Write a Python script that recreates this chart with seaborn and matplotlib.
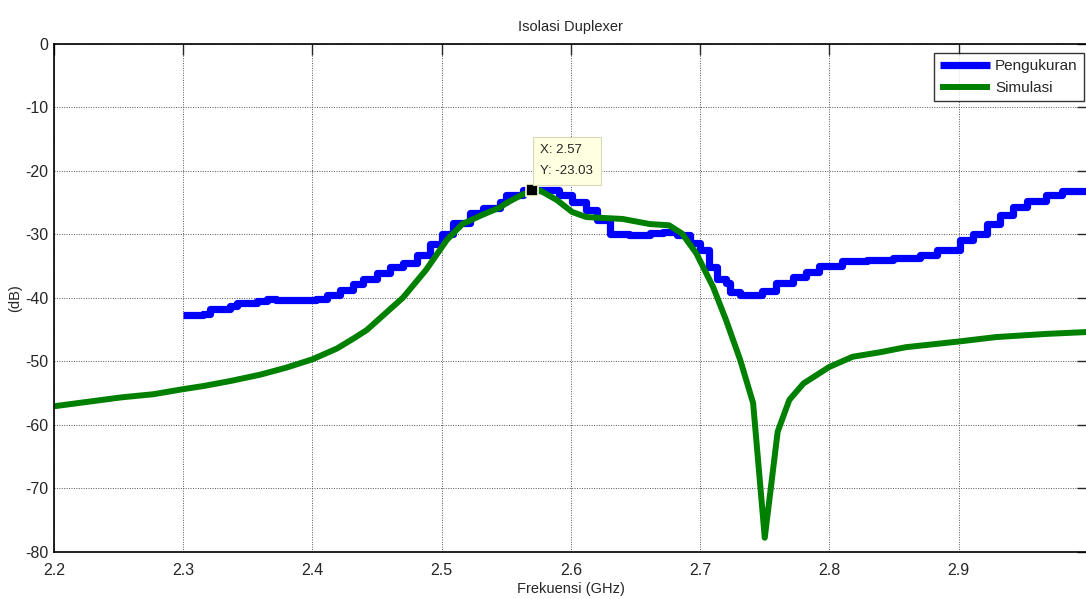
import pandas as pd
import numpy as np

import matplotlib
matplotlib.use('Agg')

import matplotlib.pyplot as plt
import seaborn as sns

# =========================
# DATA
# =========================
ukur_f = [2.300, 2.315, 2.321, 2.336, 2.342, 2.357, 2.365, 2.372, 2.388, 2.403,
          2.411, 2.421, 2.431, 2.439, 2.450, 2.460, 2.470, 2.481, 2.491, 2.500,
          2.509, 2.522, 2.532, 2.545, 2.550, 2.563, 2.570, 2.581, 2.591, 2.601,
          2.612, 2.620, 2.630, 2.645, 2.661, 2.671, 2.682, 2.692, 2.700, 2.707,
          2.713, 2.720, 2.723, 2.731, 2.748, 2.759, 2.772, 2.782, 2.792, 2.810,
          2.829, 2.849, 2.870, 2.883, 2.901, 2.911, 2.922, 2.932, 2.942, 2.953,
          2.968, 2.980, 3.000]
ukur_db = [-42.7, -42.5, -41.8, -41.3, -40.9, -40.5, -40.2, -40.4, -40.3, -40.2,
           -39.6, -38.8, -37.9, -37.0, -36.1, -35.1, -34.5, -33.3, -31.6, -29.9,
           -28.2, -26.7, -25.9, -24.9, -23.8, -23.05, -23.03, -23.1, -23.8, -24.9,
           -26.2, -27.8, -29.9, -30.1, -29.8, -29.7, -30.1, -31.4, -32.5, -35.1,
           -37.0, -37.7, -39.1, -39.6, -38.9, -37.7, -36.7, -35.9, -35.0, -34.2,
           -34.1, -33.8, -33.2, -32.5, -30.9, -29.9, -28.4, -27.0, -25.7, -24.7,
           -23.8, -23.2, -22.6]

sim_f = [2.200, 2.226, 2.252, 2.277, 2.300, 2.316, 2.337, 2.360, 2.380, 2.400,
         2.419, 2.432, 2.442, 2.470, 2.488, 2.504, 2.516, 2.532, 2.545, 2.550,
         2.563, 2.576, 2.589, 2.601, 2.612, 2.640, 2.661, 2.676, 2.686, 2.697,
         2.710, 2.720, 2.731, 2.741, 2.750, 2.760, 2.769, 2.780, 2.800, 2.818,
         2.839, 2.859, 2.900, 2.929, 2.968, 3.000]
sim_db = [-57.1, -56.4, -55.7, -55.2, -54.4, -53.9, -53.1, -52.1, -51.0, -49.7,
          -48.0, -46.4, -45.1, -40.0, -35.6, -30.9, -28.4, -26.9, -25.8, -25.1,
          -23.7, -23.1, -24.6, -26.5, -27.3, -27.6, -28.4, -28.6, -29.9, -33.0,
          -38.3, -43.5, -49.8, -56.6, -77.8, -61.1, -56.1, -53.5, -50.9, -49.3,
          -48.6, -47.8, -46.9, -46.2, -45.7, -45.4]

x_ticks = [2.2, 2.3, 2.4, 2.5, 2.6, 2.7, 2.8, 2.9]
y_ticks = [0, -10, -20, -30, -40, -50, -60, -70, -80]
tip_x, tip_y = 2.57, -23.03

df_ukur = pd.DataFrame({"f": ukur_f, "db": ukur_db})
df_sim = pd.DataFrame({"f": sim_f, "db": sim_db})

# =========================
# STYLE
# =========================
sns.set_style("white")
plt.rcParams['font.family'] = ['Liberation Sans Narrow', 'Liberation Sans', 'DejaVu Sans']

fig = plt.figure(figsize=(10.86, 5.99), dpi=100)
ax = fig.add_axes([0.0497, 0.079, 0.952, 0.848])

# =========================
# PLOT
# =========================
sns.lineplot(data=df_ukur, x="f", y="db", ax=ax, color="#0000ff", linewidth=5.2,
             drawstyle="steps-post", label="Pengukuran",
             solid_joinstyle="round", solid_capstyle="butt")
sns.lineplot(data=df_sim, x="f", y="db", ax=ax, color="#008000", linewidth=4.3,
             label="Simulasi", solid_capstyle="butt")

# data tip
ax.plot([tip_x], [tip_y], marker="s", markersize=8, color="black",
        markeredgecolor="#ffffe1", markeredgewidth=1.2, zorder=5)
ax.annotate("X: 2.57\nY: -23.03", xy=(tip_x, tip_y), xytext=(6, 9),
            textcoords="offset points", fontsize=9.5, ha="left", va="bottom",
            linespacing=2.0,
            bbox=dict(boxstyle="square,pad=0.55", facecolor="#ffffe1",
                      edgecolor="#d8d8b8", linewidth=0.8), zorder=6)

ax.set_xlim(2.2, 3.0)
ax.set_ylim(-80, 0)
ax.set_xticks(x_ticks)
ax.set_xticklabels([f"{t:g}" for t in x_ticks])
ax.set_yticks(y_ticks)
ax.set_yticklabels([f"{t:g}" for t in y_ticks])

ax.grid(True, color="#555555", linestyle=(0, (1, 1.5)), linewidth=0.7)
ax.tick_params(direction="in", length=8, width=1, top=True, right=True,
               labelsize=11.5)
ax.tick_params(axis="x", pad=8)
ax.tick_params(axis="y", pad=4)
for s in ax.spines.values():
    s.set_color("black")
    s.set_linewidth(1.2)

ax.set_title("Isolasi Duplexer", fontsize=10.5, pad=9)
ax.set_xlabel("Frekuensi (GHz)", fontsize=10.5, labelpad=3)
ax.set_ylabel("(dB)", fontsize=10.5, labelpad=2)

leg = ax.legend(loc="upper right", bbox_to_anchor=(0.996, 0.981), borderaxespad=0,
                fontsize=11, frameon=True, fancybox=False, handlelength=3.3,
                handletextpad=0.3, borderpad=0.4, labelspacing=0.5)
leg.get_frame().set_edgecolor("black")
leg.get_frame().set_linewidth(1.0)

plt.savefig("out.png", dpi=100)
plt.close()
